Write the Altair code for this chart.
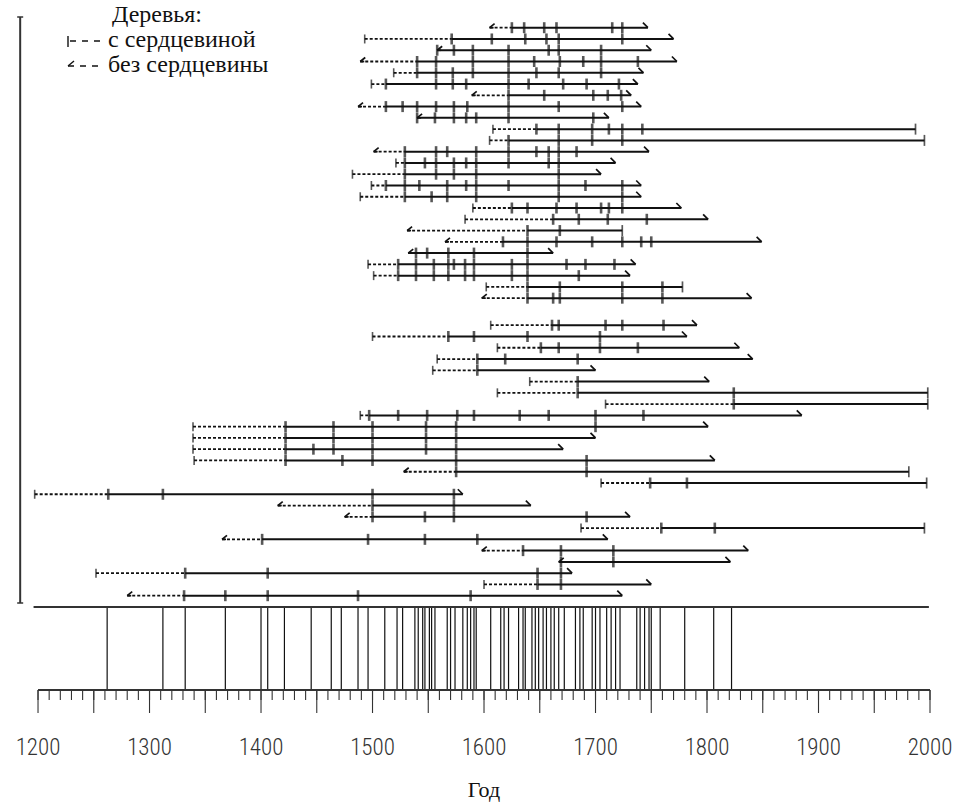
import altair as alt
import pandas as pd

# ---------------- data ----------------
# one entry per tree (top to bottom)
ROW_START = [1605, 1493, 1558, 1489, 1519, 1499, 1589, 1487, 1540, 1608,
             1605, 1501, 1521, 1482, 1499, 1489, 1590, 1583, 1531, 1565,
             1532, 1496, 1501, 1602, 1598,
             1606, 1500, 1612, 1558, 1554, 1641, 1612, 1709, 1489, 1339,
             1339, 1339, 1340, 1528, 1705, 1197, 1415, 1475, 1687, 1365,
             1598, 1667, 1252, 1600, 1280]
# p = с сердцевиной, n = без сердцевины, c = без сердцевины (no dashed part)
ROW_KIND = list("npcnppnncppnppppppnncpppn" + "pppppppppppppnppnnpnncppn")
ROW_SOLID = [1625, 1571, 1558, 1540, 1540, 1512, 1622, 1512, 1540, 1647,
             1622, 1529, 1529, 1529, 1512, 1529, 1625, 1662, 1639, 1617,
             1532, 1523, 1523, 1639, 1639,
             1661, 1568, 1651, 1594, 1594, 1684, 1684, 1824, 1497, 1422,
             1422, 1422, 1422, 1575, 1749, 1263, 1500, 1500, 1759, 1401,
             1635, 1667, 1332, 1648, 1331]
ROW_END = [1747, 1770, 1750, 1773, 1743, 1738, 1732, 1741, 1712, 1987,
           1995, 1748, 1718, 1705, 1741, 1741, 1777, 1801, 1724, 1849,
           1662, 1736, 1731, 1778, 1840,
           1791, 1782, 1829, 1841, 1700, 1802, 1998, 1998, 1885, 1801,
           1700, 1671, 1807, 1981, 1997, 1581, 1642, 1731, 1995, 1711,
           1837, 1821, 1679, 1750, 1724]
# h = hooked end, b = bar end
ROW_END_KIND = list("hhhhhhhhhbbhhhhhhhbhhhhbh" + "hhhhhhbbhhhhhbbhhhbhhhhhh")
ROW_TICKS = [
    [1625, 1636, 1654, 1665, 1715, 1724],
    [1571, 1607, 1637, 1656, 1667, 1724],
    [1558, 1573, 1590, 1622, 1658, 1667, 1705],
    [1540, 1557, 1590, 1622, 1645, 1668, 1689, 1705, 1738],
    [1540, 1557, 1572, 1590, 1622, 1647, 1667, 1705],
    [1512, 1557, 1572, 1584, 1622, 1640, 1671, 1692, 1721],
    [1622, 1654, 1698, 1711, 1723],
    [1512, 1527, 1540, 1557, 1573, 1585, 1622, 1667, 1724],
    [1540, 1556, 1573, 1584, 1593, 1622, 1698],
    [1647, 1667, 1697, 1712, 1724, 1742],
    [1622, 1667, 1697, 1724],
    [1529, 1557, 1567, 1593, 1622, 1647, 1658, 1667, 1683],
    [1529, 1547, 1557, 1573, 1584, 1593, 1622, 1658, 1667],
    [1529, 1557, 1573, 1593, 1667],
    [1512, 1529, 1542, 1567, 1584, 1593, 1622, 1667, 1691, 1724],
    [1529, 1553, 1567, 1593, 1667, 1724],
    [1625, 1639, 1665, 1683, 1705, 1712, 1724],
    [1662, 1685, 1711, 1746],
    [1639, 1668],
    [1617, 1639, 1665, 1697, 1724, 1741, 1750],
    [1539, 1549, 1568, 1591, 1639],
    [1523, 1539, 1555, 1568, 1573, 1583, 1591, 1625, 1639, 1674, 1691, 1717],
    [1523, 1539, 1555, 1568, 1583, 1591, 1625, 1639, 1685],
    [1639, 1668, 1724, 1760],
    [1639, 1662, 1668, 1724, 1760],
    [1661, 1667, 1709, 1724, 1761],
    [1568, 1591, 1639, 1704],
    [1651, 1667, 1704, 1738],
    [1594, 1619, 1684],
    [1594],
    [1684],
    [1684, 1824],
    [1824],
    [1497, 1523, 1549, 1576, 1591, 1632, 1658, 1700, 1743],
    [1422, 1465, 1500, 1548, 1575, 1700],
    [1422, 1465, 1500, 1548, 1575],
    [1422, 1447, 1465, 1500, 1548, 1575],
    [1422, 1473, 1500, 1575, 1692],
    [1575, 1692],
    [1749, 1782],
    [1263, 1312, 1500, 1573],
    [1500, 1573],
    [1500, 1547, 1573, 1692],
    [1759, 1807],
    [1401, 1496, 1547, 1594],
    [1635, 1669, 1716],
    [1669, 1716],
    [1332, 1406, 1648, 1669],
    [1648, 1669],
    [1331, 1368, 1406, 1487, 1588],
]
GAP_AFTER_ROW = 25
GAP_SIZE = 1.4

BOTTOM_YEARS = [1262, 1312, 1332, 1368, 1400, 1406, 1421, 1445, 1463, 1472,
                1487, 1496, 1511, 1522, 1527, 1538, 1541, 1545, 1547, 1551,
                1553, 1556, 1567, 1570, 1574, 1581, 1585, 1588, 1591, 1593,
                1606, 1615, 1618, 1622, 1631, 1635, 1637, 1643, 1646, 1649,
                1653, 1656, 1660, 1663, 1667, 1672, 1682, 1686, 1689, 1697,
                1700, 1704, 1710, 1714, 1718, 1722, 1737, 1740, 1744, 1748,
                1750, 1758, 1780, 1806, 1822]

AXIS_FROM, AXIS_TO = 1200, 2000
MINOR_STEP, MAJOR_STEP, LABEL_STEP = 10, 50, 100
X_TITLE = "Год"
LEGEND_TITLE = "Деревья:"
LEGEND_PITH = "с сердцевиной"
LEGEND_NOPITH = "без сердцевины"

# ---------------- tables ----------------
rows = []
ticks = []
for i in range(len(ROW_START)):
    idx = i + 1
    pos = idx + (GAP_SIZE if idx > GAP_AFTER_ROW else 0)
    rows.append(dict(pos=pos, start=ROW_START[i], solid=ROW_SOLID[i],
                     end=ROW_END[i], kind=ROW_KIND[i], endkind=ROW_END_KIND[i]))
    for t in ROW_TICKS[i]:
        ticks.append(dict(pos=pos, year=t))
rows = pd.DataFrame(rows)
ticks = pd.DataFrame(ticks)

bottom = pd.DataFrame({"year": BOTTOM_YEARS})
minor = pd.DataFrame({"year": list(range(AXIS_FROM, AXIS_TO + 1, MINOR_STEP))})
major = pd.DataFrame({"year": list(range(AXIS_FROM, AXIS_TO + 1, MAJOR_STEP))})
labels = pd.DataFrame({"year": list(range(AXIS_FROM, AXIS_TO + 1, LABEL_STEP))})
labels["label"] = labels["year"].astype(str)
axis_line = pd.DataFrame({"x": [AXIS_FROM], "x2": [AXIS_TO]})
frame_line = pd.DataFrame({"x": [1196], "x2": [1999]})
left_line = pd.DataFrame({"x": [1184]})

INK = "#111111"
SERIF = "'Liberation Serif', 'Times New Roman', 'DejaVu Serif', serif"
XS = alt.Scale(domain=[1165.9, 2027.8], nice=False, zero=False)
YS = alt.Scale(domain=[1, 51.4], range=[27.7, 595.7], nice=False, zero=False)


def X(f):
    return alt.X(f, type="quantitative", scale=XS, axis=None)


def Y(f):
    return alt.Y(f, type="quantitative", scale=YS, axis=None)


base = alt.Chart(rows)

dashed = base.transform_filter("datum.start < datum.solid").mark_rule(
    strokeDash=[3, 2], strokeWidth=1.8, color=INK
).encode(x=X("start"), x2="solid", y=Y("pos"))

solid = base.mark_rule(strokeWidth=2, color=INK).encode(
    x=X("solid"), x2="end", y=Y("pos"))

tick_marks = alt.Chart(ticks).mark_tick(
    orient="vertical", size=11, thickness=2.6, color=INK
).encode(x=X("year"), y=Y("pos"))

pith = base.transform_filter("datum.kind == 'p'").mark_tick(
    orient="vertical", size=9, thickness=1.6, color=INK
).encode(x=X("start"), y=Y("pos"))

nopith_a = base.transform_filter("datum.kind != 'p'").mark_rule(
    strokeWidth=1.7, color=INK, x2Offset=5, y2Offset=-4
).encode(x=X("start"), x2="start", y=Y("pos"), y2="pos")
nopith_b = base.transform_filter("datum.kind != 'p'").mark_rule(
    strokeWidth=1.7, color=INK, x2Offset=4
).encode(x=X("start"), x2="start", y=Y("pos"))

hook = base.transform_filter("datum.endkind == 'h'").mark_rule(
    strokeWidth=1.7, color=INK, xOffset=-5, yOffset=-5
).encode(x=X("end"), x2="end", y=Y("pos"), y2="pos")

endbar = base.transform_filter("datum.endkind == 'b'").mark_tick(
    orient="vertical", size=11, thickness=1.7, color=INK
).encode(x=X("end"), y=Y("pos"))

# left bracket
left = alt.Chart(left_line).mark_rule(strokeWidth=2, color="#333").encode(
    x=X("x"), y=alt.value(17), y2=alt.value(603))
left_top = alt.Chart(left_line).mark_rule(
    strokeWidth=1.5, color="#333", xOffset=-3, x2Offset=3
).encode(x=X("x"), x2="x", y=alt.value(17))
left_bot = alt.Chart(left_line).mark_rule(
    strokeWidth=1.5, color="#333", xOffset=-3, x2Offset=3
).encode(x=X("x"), x2="x", y=alt.value(603))

# bottom panel
bottom_lines = alt.Chart(bottom).mark_rule(strokeWidth=1.2, color=INK).encode(
    x=X("year"), y=alt.value(607), y2=alt.value(690))
top_line = alt.Chart(frame_line).mark_rule(strokeWidth=2, color="#333").encode(
    x=X("x"), x2="x2", y=alt.value(607))
ax_line = alt.Chart(axis_line).mark_rule(strokeWidth=1.8, color="#333").encode(
    x=X("x"), x2="x2", y=alt.value(690))
minor_t = alt.Chart(minor).mark_rule(strokeWidth=1.1, color="#333").encode(
    x=X("year"), y=alt.value(690), y2=alt.value(700))
major_t = alt.Chart(major).mark_rule(strokeWidth=1.1, color="#333").encode(
    x=X("year"), y=alt.value(690), y2=alt.value(713))
label_t = alt.Chart(labels).mark_text(
    font="'Roboto Condensed', 'Liberation Sans Narrow', Roboto, 'Liberation Sans'",
    fontSize=23, fontWeight=300, color="#333", baseline="middle", align="center"
).encode(x=X("year"), y=alt.value(748), text="label:N")
title_t = alt.Chart(pd.DataFrame({"t": [X_TITLE]})).mark_text(
    font=SERIF, fontSize=22, color="#111", baseline="middle", align="center"
).encode(x=alt.value(484), y=alt.value(790), text="t:N")

# legend
LEG_FONT = dict(font=SERIF, fontSize=24, color="#111",
                baseline="alphabetic", align="left")
leg_title = alt.Chart(pd.DataFrame({"t": [LEGEND_TITLE]})).mark_text(**LEG_FONT).encode(
    x=alt.value(112), y=alt.value(22), text="t:N")
leg_p = alt.Chart(pd.DataFrame({"t": [LEGEND_PITH]})).mark_text(**LEG_FONT).encode(
    x=alt.value(108), y=alt.value(47), text="t:N")
leg_n = alt.Chart(pd.DataFrame({"t": [LEGEND_NOPITH]})).mark_text(**LEG_FONT).encode(
    x=alt.value(108), y=alt.value(72), text="t:N")
one = pd.DataFrame({"a": [0]})
leg_p_bar = alt.Chart(one).mark_rule(strokeWidth=1.4, color=INK).encode(
    x=alt.value(68), y=alt.value(36), y2=alt.value(47))
leg_p_dash = alt.Chart(one).mark_rule(strokeWidth=1.4, color=INK, strokeDash=[6, 6]).encode(
    x=alt.value(70), x2=alt.value(102), y=alt.value(41))
leg_n_a = alt.Chart(one).mark_rule(strokeWidth=1.4, color=INK).encode(
    x=alt.value(68), x2=alt.value(74), y=alt.value(66), y2=alt.value(61))
leg_n_dash = alt.Chart(one).mark_rule(strokeWidth=1.4, color=INK, strokeDash=[6, 6]).encode(
    x=alt.value(68), x2=alt.value(102), y=alt.value(66))

chart = alt.layer(
    dashed, solid, tick_marks, pith, nopith_a, nopith_b, hook, endbar,
    left, left_top, left_bot,
    bottom_lines, top_line, ax_line, minor_t, major_t, label_t, title_t,
    leg_title, leg_p, leg_n, leg_p_bar, leg_p_dash, leg_n_a, leg_n_dash,
).properties(
    width=961, height=805,
    autosize=alt.AutoSizeParams(type="none"), padding=0,
    background="white",
).configure_view(stroke=None)

chart.save("out.html", embed_options={"renderer": "svg", "actions": False})
